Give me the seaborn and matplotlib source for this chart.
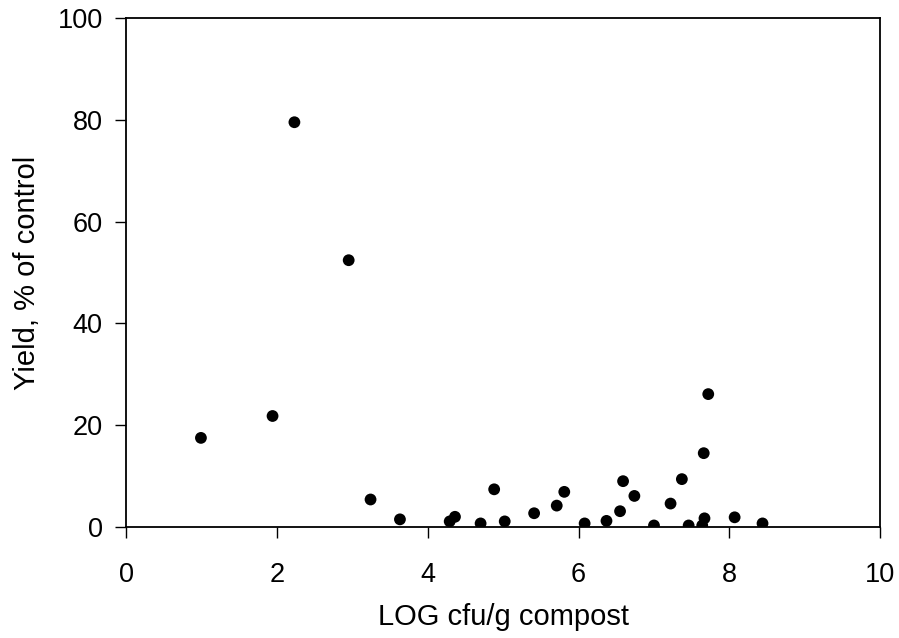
import matplotlib
matplotlib.use("Agg")
import matplotlib.pyplot as plt
import seaborn as sns
import pandas as pd

log_cfu = [0.99, 1.94, 2.23, 2.95, 3.24, 3.63, 4.29, 4.36, 4.70, 4.88, 5.02,
           5.41, 5.71, 5.81, 6.08, 6.37, 6.55, 6.59, 6.74, 7.00, 7.22, 7.37,
           7.46, 7.64, 7.67, 7.66, 7.72, 8.07, 8.44]
yield_pct = [17.5, 21.8, 79.5, 52.4, 5.4, 1.5, 1.1, 2.0, 0.7, 7.4, 1.1,
             2.7, 4.2, 6.9, 0.7, 1.2, 3.1, 9.0, 6.1, 0.3, 4.6, 9.4,
             0.3, 0.3, 1.7, 14.5, 26.1, 1.9, 0.7]
x_ticks = [0, 2, 4, 6, 8, 10]
y_ticks = [0, 20, 40, 60, 80, 100]

df = pd.DataFrame({"x": log_cfu, "y": yield_pct})

sns.set_style("white", {"axes.labelcolor": "black", "text.color": "black",
                        "xtick.color": "black", "ytick.color": "black",
                        "axes.edgecolor": "black"})
plt.rcParams["font.family"] = ["Liberation Sans", "DejaVu Sans"]

fig = plt.figure(figsize=(8.99, 6.38), dpi=100)
ax = fig.add_axes([0.1405, 0.174, 0.8385, 0.798])
sns.scatterplot(data=df, x="x", y="y", ax=ax, color="black", s=72,
                edgecolor="none", legend=False)

ax.set_xlim(0, 10)
ax.set_ylim(0, 100)
ax.set_xticks(x_ticks)
ax.set_yticks(y_ticks)
ax.set_xticklabels([str(t) for t in x_ticks])
ax.set_yticklabels([str(t) for t in y_ticks])
ax.tick_params(axis="both", direction="out", length=8, width=1.0,
               color="black", labelsize=19.5, labelcolor="black",
               bottom=True, left=True)
ax.tick_params(axis="x", pad=17)
ax.tick_params(axis="y", pad=9)
for sp in ax.spines.values():
    sp.set_visible(True)
    sp.set_color("black")
    sp.set_linewidth(1.3)
ax.set_xlabel("LOG cfu/g compost", fontsize=21, labelpad=11, color="black")
ax.set_ylabel("Yield, % of control", fontsize=21, labelpad=12, color="black")
ax.grid(False)

fig.savefig("out.png", dpi=100, facecolor="white")
